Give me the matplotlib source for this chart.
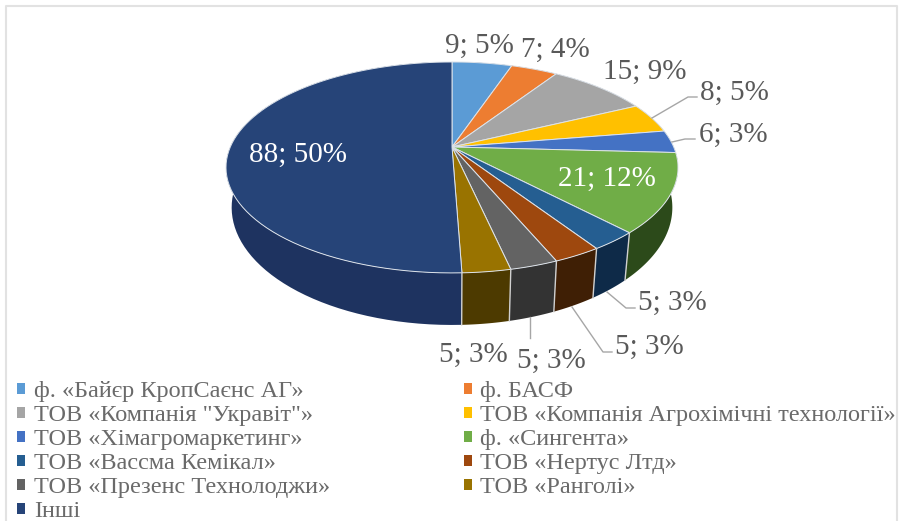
import numpy as np
import matplotlib
matplotlib.use('Agg')
import matplotlib.pyplot as plt
from matplotlib.patches import Patch

plt.rcParams['font.family'] = ['Liberation Serif', 'DejaVu Serif']

names = ['ф. «Байєр КропСаєнс АГ»', 'ф. БАСФ', 'ТОВ «Компанія "Укравіт"»',
         'ТОВ «Компанія Агрохімічні технології»', 'ТОВ «Хімагромаркетинг»',
         'ф. «Сингента»', 'ТОВ «Вассма Кемікал»', 'ТОВ «Нертус Лтд»',
         'ТОВ «Презенс Технолоджи»', 'ТОВ «Ранголі»', 'Інші']
values = [9, 7, 15, 8, 6, 21, 5, 5, 5, 5, 88]
percents = [5, 4, 9, 5, 3, 12, 3, 3, 3, 3, 50]

colors = ['#5B9BD5', '#ED7D31', '#A5A5A5', '#FFC000', '#4472C4', '#70AD47',
          '#255E91', '#9E480E', '#636363', '#997300', '#264478']
side_colors = ['#2f5f8a', '#8a4a1c', '#606060', '#947000', '#28457a', '#2c4a1a',
               '#0e2a48', '#3f1f05', '#333333', '#4d3a00', '#1e3360']

# label centres in pixels, same order as values
label_x = [479, 555, 645, 734, 733, 607, 672, 649, 551, 473, 298]
label_y = [46, 50, 72, 93, 135, 179, 303, 347, 361, 355, 155]
label_col = ['#595959'] * 5 + ['white'] + ['#595959'] * 4 + ['white']

# perspective of the pie disc
cx, cy = 452, 147
rx, ry, k = 221.7, 101.5, 0.194


def top_edge(theta):
    u, v = np.sin(theta), np.cos(theta)
    w = 1 + k * v
    return cx + rx * u / w, cy - ry * v / w


def bottom_edge(theta):
    x, y = top_edge(theta)
    return cx + (x - cx) * 0.975, y + 42 + (y - 185) * 0.114


fig = plt.figure(figsize=(8.99, 5.21), dpi=100)
ax = fig.add_axes([0, 0, 1, 1])
ax.set_xlim(0, 899)
ax.set_ylim(521, 0)
ax.axis('off')

# frame of the picture
ax.plot([6, 6, 897, 897], [521, 6, 6, 521], color='#e2e2e2', lw=1.5)

edges = np.cumsum([0] + values) / sum(values) * 2 * np.pi

for i in range(len(values)):
    t = np.linspace(edges[i], edges[i + 1], 80)
    xt, yt = top_edge(t)
    xb, yb = bottom_edge(t)
    ax.fill(np.r_[xt, xb[::-1]], np.r_[yt, yb[::-1]], color=side_colors[i], lw=0)
    if np.pi * 0.55 < edges[i + 1] < np.pi * 1.05:
        ax.plot([xt[-1], xb[-1]], [yt[-1], yb[-1]], color='#d0d0d0', lw=1)

for i in range(len(values)):
    t = np.linspace(edges[i], edges[i + 1], 80)
    xt, yt = top_edge(t)
    ax.fill(np.r_[cx, xt], np.r_[cy, yt], facecolor=colors[i], edgecolor='#dde3ea', lw=0.7)

for i in range(len(values)):
    ax.text(label_x[i], label_y[i], '%d; %d%%' % (values[i], percents[i]), color=label_col[i],
            fontsize=21, ha='center', va='center')

# leader lines
leaders = [([652, 688, 697], [118, 97, 97]),
           ([672, 685, 695], [142, 139, 139]),
           ([607, 626, 635], [292, 308, 308]),
           ([572, 603, 612], [307, 352, 352]),
           ([530, 530], [317, 338])]
for lx, ly in leaders:
    ax.plot(lx, ly, color='#a6a6a6', lw=1)

handles = [Patch(facecolor=c, edgecolor='none') for c in colors]
order = [0, 2, 4, 6, 8, 10, 1, 3, 5, 7, 9]
ax.legend([handles[i] for i in order], [names[i] for i in order], ncol=2,
          loc='upper left', bbox_to_anchor=(17, 381), bbox_transform=ax.transData,
          frameon=False, fontsize=17.5, labelcolor='#6a6a6a', borderpad=0, borderaxespad=0,
          labelspacing=0.125, handlelength=0.33, handleheight=0.33, handletextpad=0.36,
          columnspacing=5.5)

plt.savefig('out.png', dpi=100)
